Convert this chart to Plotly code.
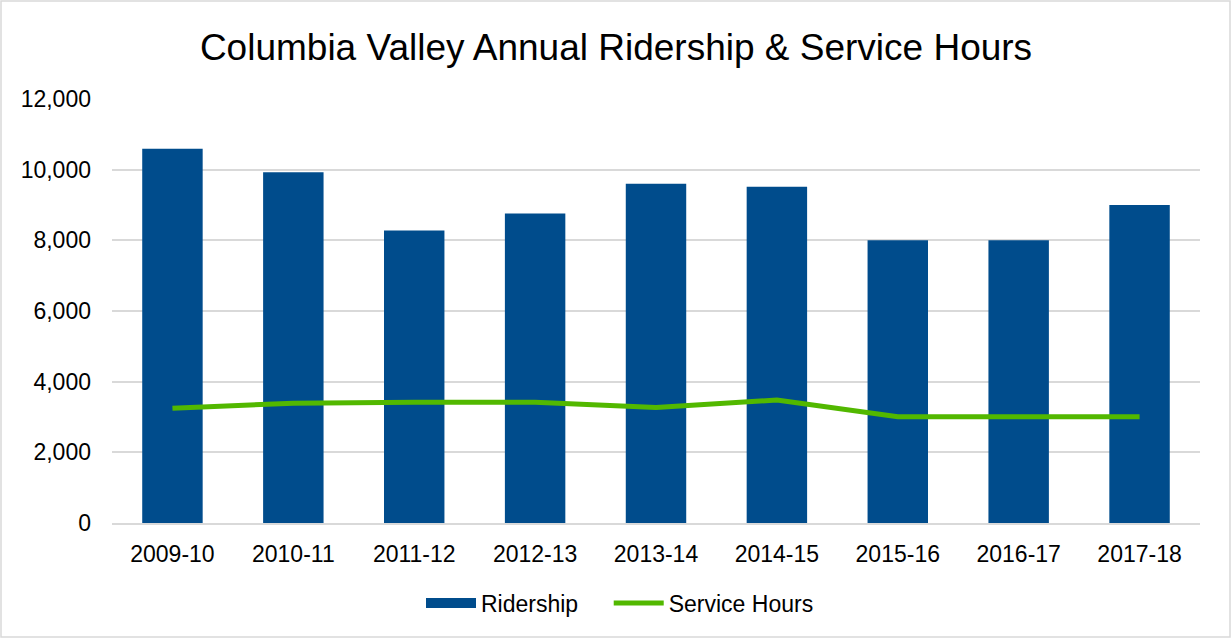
import plotly.graph_objects as go

years = ["2009-10", "2010-11", "2011-12", "2012-13", "2013-14", "2014-15", "2015-16", "2016-17", "2017-18"]
ridership = [10590, 9930, 8280, 8760, 9600, 9520, 8000, 8000, 9000]
service_hours = [3250, 3390, 3420, 3420, 3270, 3480, 3010, 3010, 3010]
y_ticks = [0, 2000, 4000, 6000, 8000, 10000, 12000]

W, H = 1231, 638
ml, mr, mt, mb = 112, 31, 99, 115
pw, ph = W - ml - mr, H - mt - mb

BLUE = "#004C8C"
GREEN = "#52B800"

fig = go.Figure()
fig.add_trace(go.Bar(x=years, y=ridership, name="Ridership", showlegend=False,
                     marker=dict(color=BLUE, line=dict(width=0))))
fig.add_trace(go.Scatter(x=years, y=service_hours, name="Service Hours", mode="lines",
                         showlegend=False, line=dict(color=GREEN, width=5)))
# legend entries
fig.add_trace(go.Scatter(x=[None], y=[None], name="Ridership" + "\u00a0" * 4, mode="lines",
                         line=dict(color=BLUE, width=13)))
fig.add_trace(go.Scatter(x=[None], y=[None], name="Service Hours", mode="lines",
                         line=dict(color=GREEN, width=5)))

font = "Liberation Sans, Arial, sans-serif"
fig.update_layout(
    width=W, height=H,
    margin=dict(l=ml, r=mr, t=mt, b=mb),
    paper_bgcolor="white", plot_bgcolor="white",
    bargap=0.5,
    font=dict(family=font, size=23, color="#000000"),
    title=dict(text="Columbia Valley Annual Ridership & Service Hours",
               font=dict(family=font, size=37, color="#000000"),
               x=(616) / W, xanchor="center", y=1 - 47 / H, yanchor="middle"),
    legend=dict(orientation="h", x=(620 - ml) / pw, xanchor="center",
                y=-80 / ph, yanchor="middle", font=dict(size=23),
                traceorder="normal", itemwidth=50),
    showlegend=True,
)
fig.update_xaxes(type="category", showgrid=False, showline=True, linecolor="#D9D9D9", linewidth=1.5,
                 ticks="", tickfont=dict(size=23), ticklabelstandoff=10)
fig.update_yaxes(range=[0, 12000], tickvals=y_ticks, tickformat=",",
                 showgrid=True, gridcolor="#D9D9D9", gridwidth=1.5,
                 zeroline=False, showline=False, ticks="",
                 tickfont=dict(size=23), ticklabelstandoff=20)

fig.add_shape(type="rect", xref="paper", yref="paper",
              x0=-(ml - 1) / pw, x1=1 + (mr - 1) / pw,
              y0=-(mb - 1) / ph, y1=1 + (mt - 1) / ph,
              line=dict(color="#D9D9D9", width=1.5), fillcolor="rgba(0,0,0,0)")

fig.write_html("out.html", config={"displayModeBar": False},
               post_script="document.body.style.margin='0';")
